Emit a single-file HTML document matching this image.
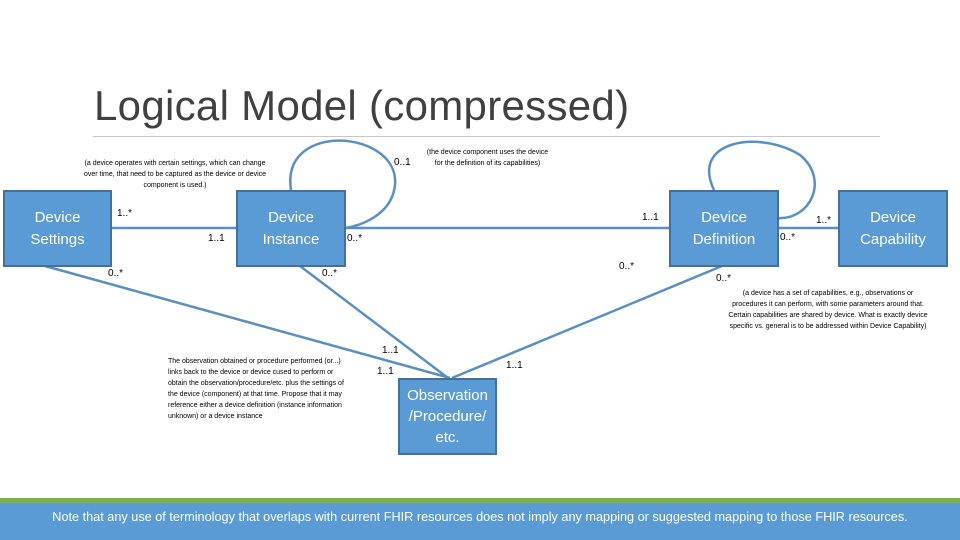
<!DOCTYPE html>
<html><head><meta charset="utf-8"><style>
body{margin:0;width:960px;height:540px;background:#fff;position:relative;overflow:hidden;font-family:"Liberation Sans",sans-serif}
.t{position:absolute;font-size:7px;color:#000;line-height:11px;text-align:center}
.box{position:absolute;background:#5b9bd5;border:2px solid #41719c;color:#fff;font-size:15px;display:flex;align-items:center;justify-content:center;text-align:center;line-height:22px;box-sizing:border-box}
.m{position:absolute;font-size:10px;color:#000}
</style></head><body>
<div style="position:absolute;left:94px;top:82px;font-size:42px;color:#404040;letter-spacing:0.3px">Logical Model (compressed)</div>
<div style="position:absolute;left:93px;top:136px;width:787px;height:1px;background:#c8c8c8"></div>
<svg width="960" height="540" style="position:absolute;left:0;top:0">
<g stroke="#5b8fc0" stroke-width="2.5" fill="none">
<line x1="111" y1="228" x2="236" y2="228"/>
<line x1="345" y1="228" x2="669" y2="228"/>
<line x1="778" y1="228" x2="838" y2="228"/>
<path d="M291,190 C280,120 400,130 395,185 C392,215 360,226 345,228"/>
<path d="M714,190 C690,140 760,130 800,155 C830,180 810,220 778,218"/>
<line x1="45" y1="266" x2="450" y2="378"/>
<line x1="300" y1="266" x2="448" y2="378"/>
<line x1="722" y1="266" x2="452" y2="378"/>
</g></svg>
<div class="box" style="left:3px;top:190px;width:109px;height:77px">Device<br>Settings</div>
<div class="box" style="left:236px;top:190px;width:110px;height:77px">Device<br>Instance</div>
<div class="box" style="left:669px;top:190px;width:110px;height:77px">Device<br>Definition</div>
<div class="box" style="left:838px;top:190px;width:110px;height:77px">Device<br>Capability</div>
<div class="box" style="left:398px;top:378px;width:99px;height:77px;line-height:21px">Observation<br>/Procedure/<br>etc.</div>
<div class="m" style="left:117px;top:208px">1..*</div>
<div class="m" style="left:208px;top:233px">1..1</div>
<div class="m" style="left:108px;top:268px">0..*</div>
<div class="m" style="left:322px;top:268px">0..*</div>
<div class="m" style="left:347px;top:233px">0..*</div>
<div class="m" style="left:394px;top:157px">0..1</div>
<div class="m" style="left:642px;top:212px">1..1</div>
<div class="m" style="left:619px;top:261px">0..*</div>
<div class="m" style="left:716px;top:273px">0..*</div>
<div class="m" style="left:780px;top:232px">0..*</div>
<div class="m" style="left:816px;top:215px">1..*</div>
<div class="m" style="left:382px;top:345px">1..1</div>
<div class="m" style="left:377px;top:366px">1..1</div>
<div class="m" style="left:506px;top:360px">1..1</div>
<div class="t" style="left:80px;top:158px;width:190px">(a device operates with certain settings, which can change over time, that need to be captured as the device or device component is used.)</div>
<div class="t" style="left:425px;top:147px;width:125px">(the device component uses the device for the definition of its capabilities)</div>
<div class="t" style="left:728px;top:288px;width:200px">(a device has a set of capabilities, e.g., observations or procedures it can perform, with some parameters around that. Certain capabilities are shared by device. What is exactly device specific vs. general is to be addressed within Device Capability)</div>
<div class="t" style="left:168px;top:356px;width:180px;text-align:left">The observation obtained or procedure performed (or...) links back to the device or device cused to perform or obtain the observation/procedure/etc. plus the settings of the device (component) at that time. Propose that it may reference either a device definition (instance information unknown) or a device instance</div>
<div style="position:absolute;left:0;top:498px;width:960px;height:5px;background:#7cb342"></div>
<div style="position:absolute;left:0;top:503px;width:960px;height:37px;background:#5b9bd5;color:#fff;font-size:12.7px;line-height:28px;text-align:center">Note that any use of terminology that overlaps with current FHIR resources does not imply any mapping or suggested mapping to those FHIR resources.</div>
</body></html>
